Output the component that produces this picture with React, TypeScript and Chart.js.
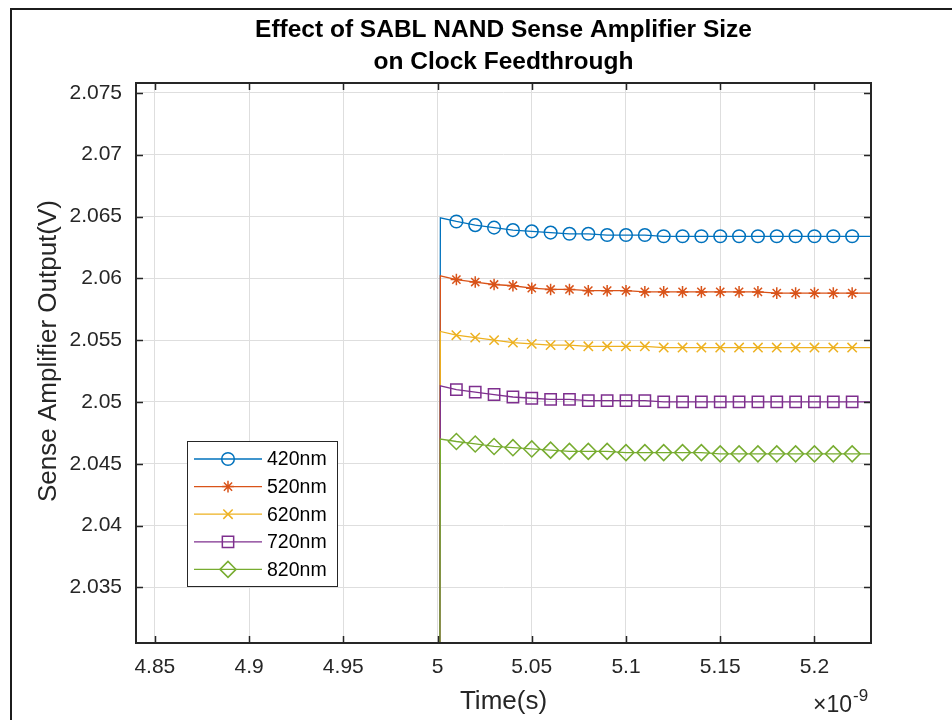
import React, { useEffect, useRef } from 'react';
import { Chart, registerables } from 'chart.js';
import { drawPoint } from 'chart.js/helpers';

Chart.register(...registerables);

// ---------- data ----------
const TITLE_LINES = ['Effect of SABL NAND Sense Amplifier Size', 'on Clock Feedthrough'];
const X_LABEL = 'Time(s)';
const Y_LABEL = 'Sense Amplifier Output(V)';
const X_EXPONENT = '-9';

// time in units of 1e-9 s
const TIMES = [
  5.0008, 5.0015,
  5.01, 5.02, 5.03, 5.04, 5.05, 5.06, 5.07, 5.08, 5.09, 5.10, 5.11,
  5.12, 5.13, 5.14, 5.15, 5.16, 5.17, 5.18, 5.19, 5.20, 5.21, 5.22,
  5.23,
];

const SERIES_NAMES = ['420nm', '520nm', '620nm', '720nm', '820nm'];

const V_420 = [
  2.0, 2.0649,
  2.0646, 2.0643, 2.0641, 2.0639, 2.0638, 2.0637, 2.0636, 2.0636, 2.0635, 2.0635, 2.0635,
  2.0634, 2.0634, 2.0634, 2.0634, 2.0634, 2.0634, 2.0634, 2.0634, 2.0634, 2.0634, 2.0634,
  2.0634,
];
const V_520 = [
  2.0, 2.0602,
  2.0599, 2.0597, 2.0595, 2.0594, 2.0592, 2.0591, 2.0591, 2.0590, 2.0590, 2.0590, 2.0589,
  2.0589, 2.0589, 2.0589, 2.0589, 2.0589, 2.0589, 2.0588, 2.0588, 2.0588, 2.0588, 2.0588,
  2.0588,
];
const V_620 = [
  2.0, 2.0557,
  2.0554, 2.0552, 2.0550, 2.0548, 2.0547, 2.0546, 2.0546, 2.0545, 2.0545, 2.0545, 2.0545,
  2.0544, 2.0544, 2.0544, 2.0544, 2.0544, 2.0544, 2.0544, 2.0544, 2.0544, 2.0544, 2.0544,
  2.0544,
];
const V_720 = [
  2.0, 2.0513,
  2.0510, 2.0508, 2.0506, 2.0504, 2.0503, 2.0502, 2.0502, 2.0501, 2.0501, 2.0501, 2.0501,
  2.0500, 2.0500, 2.0500, 2.0500, 2.0500, 2.0500, 2.0500, 2.0500, 2.0500, 2.0500, 2.0500,
  2.0500,
];
const V_820 = [
  2.0, 2.0470,
  2.0468, 2.0466, 2.0464, 2.0463, 2.0462, 2.0461, 2.0460, 2.0460, 2.0460, 2.0459, 2.0459,
  2.0459, 2.0459, 2.0459, 2.0458, 2.0458, 2.0458, 2.0458, 2.0458, 2.0458, 2.0458, 2.0458,
  2.0458,
];

const X_TICKS = [4.85, 4.9, 4.95, 5.0, 5.05, 5.1, 5.15, 5.2];
const X_TICK_LABELS = ['4.85', '4.9', '4.95', '5', '5.05', '5.1', '5.15', '5.2'];
const Y_TICKS = [2.035, 2.04, 2.045, 2.05, 2.055, 2.06, 2.065, 2.07, 2.075];
const Y_TICK_LABELS = ['2.035', '2.04', '2.045', '2.05', '2.055', '2.06', '2.065', '2.07', '2.075'];
const X_MIN = 4.84;
const X_MAX = 5.23;
const Y_MIN = 2.0305;
const Y_MAX = 2.0758;

// ---------- styles ----------
const COLORS = ['#0072BD', '#D95319', '#EDB120', '#7E2F8E', '#77AC30'];
const POINT_STYLES = ['circle', 'star', 'crossRot', 'rect', 'rectRot'];
const POINT_RADII = [6.3, 5.8, 6.6, 8, 8];
const FONT = "'Liberation Sans', Arial, Helvetica, sans-serif";
const AXIS_COLOR = '#262626';
const GRID_COLOR = '#dedede';

const SERIES_VALUES = [V_420, V_520, V_620, V_720, V_820];

const isMarker = (i: number) => i >= 2 && i <= TIMES.length - 2;

const decorPlugin = {
  id: 'decor',
  beforeDraw(chart: any) {
    const ctx = chart.ctx;
    ctx.save();
    ctx.fillStyle = '#ffffff';
    ctx.fillRect(0, 0, chart.width, chart.height);
    ctx.strokeStyle = '#1c1c1c';
    ctx.lineWidth = 2;
    ctx.beginPath();
    ctx.moveTo(11, chart.height);
    ctx.lineTo(11, 9);
    ctx.lineTo(chart.width, 9);
    ctx.stroke();
    ctx.restore();
  },
  afterDatasetsDraw(chart: any) {
    const ctx = chart.ctx;
    const { left, right, top, bottom } = chart.chartArea;
    const xs = chart.scales.x;
    const ys = chart.scales.y;
    const tl = 7;
    ctx.save();
    ctx.strokeStyle = AXIS_COLOR;
    ctx.lineWidth = 1.5;
    ctx.beginPath();
    X_TICKS.forEach((v) => {
      const px = Math.round(xs.getPixelForValue(v)) + 0.5;
      ctx.moveTo(px, bottom);
      ctx.lineTo(px, bottom - tl);
      ctx.moveTo(px, top);
      ctx.lineTo(px, top + tl);
    });
    Y_TICKS.forEach((v) => {
      const py = Math.round(ys.getPixelForValue(v)) + 0.5;
      ctx.moveTo(left, py);
      ctx.lineTo(left + tl, py);
      ctx.moveTo(right, py);
      ctx.lineTo(right - tl, py);
    });
    ctx.stroke();
    ctx.lineWidth = 2;
    ctx.strokeRect(left, top, right - left, bottom - top);
    ctx.restore();
  },
  afterDraw(chart: any) {
    const ctx = chart.ctx;
    const { left, right, top, bottom } = chart.chartArea;
    const cx = (left + right) / 2;
    ctx.save();
    // title
    ctx.fillStyle = '#000000';
    ctx.font = `bold 24.5px ${FONT}`;
    ctx.textAlign = 'center';
    ctx.textBaseline = 'middle';
    ctx.fillText(TITLE_LINES[0], cx, top - 53);
    ctx.fillText(TITLE_LINES[1], cx, top - 21);
    // axis labels
    ctx.fillStyle = AXIS_COLOR;
    ctx.font = `26px ${FONT}`;
    ctx.fillText(X_LABEL, cx, bottom + 59);
    ctx.save();
    ctx.translate(left - 87, top + 268);
    ctx.rotate(-Math.PI / 2);
    ctx.fillText(Y_LABEL, 0, 0);
    ctx.restore();
    // exponent
    ctx.textAlign = 'left';
    ctx.textBaseline = 'alphabetic';
    ctx.font = `23px ${FONT}`;
    const base = '\u00d710';
    const bx = right - 58;
    ctx.fillText(base, bx, bottom + 69);
    const bw = ctx.measureText(base).width;
    ctx.font = `17px ${FONT}`;
    ctx.fillText(X_EXPONENT, bx + bw + 1, bottom + 58);

    // legend
    const lx = left + 51;
    const ly = top + 358;
    const lw = 150;
    const lh = 145;
    ctx.fillStyle = '#ffffff';
    ctx.fillRect(lx, ly, lw, lh);
    ctx.strokeStyle = AXIS_COLOR;
    ctx.lineWidth = 1;
    ctx.strokeRect(lx + 0.5, ly + 0.5, lw, lh);
    ctx.font = `19.5px ${FONT}`;
    ctx.textBaseline = 'middle';
    SERIES_NAMES.forEach((name, i) => {
      const y = ly + 18 + i * 27.6;
      ctx.strokeStyle = COLORS[i];
      ctx.lineWidth = 1.3;
      ctx.beginPath();
      ctx.moveTo(lx + 7, y);
      ctx.lineTo(lx + 75, y);
      ctx.stroke();
      ctx.fillStyle = 'rgba(0,0,0,0)';
      ctx.strokeStyle = COLORS[i];
      ctx.lineWidth = 1.5;
      drawPoint(ctx, { pointStyle: POINT_STYLES[i], radius: POINT_RADII[i], borderWidth: 1.5, rotation: 0 } as any, lx + 41, y);
      ctx.fillStyle = '#000000';
      ctx.textAlign = 'left';
      ctx.fillText(name, lx + 80, y + 1);
    });
    ctx.restore();
  },
};

export default function App() {
  const canvasRef = useRef<HTMLCanvasElement | null>(null);

  useEffect(() => {
    const canvas = canvasRef.current;
    if (!canvas) return;
    const datasets = SERIES_NAMES.map((name, i) => ({
      label: name,
      data: TIMES.map((t, j) => ({ x: t, y: SERIES_VALUES[i][j] })),
      borderColor: COLORS[i],
      backgroundColor: 'rgba(0,0,0,0)',
      borderWidth: 1.3,
      pointStyle: POINT_STYLES[i] as any,
      pointRadius: (c: any) => (isMarker(c.dataIndex) ? POINT_RADII[i] : 0),
      pointBorderColor: COLORS[i],
      pointBackgroundColor: 'rgba(0,0,0,0)',
      pointBorderWidth: 1.5,
      tension: 0,
      fill: false,
      order: SERIES_NAMES.length - 1 - i,
    }));

    const chart = new Chart(canvas, {
      type: 'line',
      data: { datasets },
      options: {
        responsive: false,
        animation: false,
        events: [],
        layout: { padding: { left: 0, right: 81, top: 83, bottom: 0 } },
        plugins: {
          legend: { display: false },
          title: { display: false },
          tooltip: { enabled: false },
        },
        scales: {
          x: {
            type: 'linear',
            min: X_MIN,
            max: X_MAX,
            afterBuildTicks: (s: any) => {
              s.ticks = X_TICKS.map((v) => ({ value: v }));
            },
            afterFit: (s: any) => {
              s.height = 77;
            },
            ticks: {
              callback: (_v: any, idx: number) => X_TICK_LABELS[idx],
              font: { family: FONT, size: 21 },
              color: AXIS_COLOR,
              padding: 12,
              maxRotation: 0,
              autoSkip: false,
            },
            grid: { color: GRID_COLOR, lineWidth: 1, drawTicks: false },
            border: { display: false },
          },
          y: {
            type: 'linear',
            min: Y_MIN,
            max: Y_MAX,
            afterBuildTicks: (s: any) => {
              s.ticks = Y_TICKS.map((v) => ({ value: v }));
            },
            afterFit: (s: any) => {
              s.width = 136;
            },
            ticks: {
              callback: (_v: any, idx: number) => Y_TICK_LABELS[idx],
              font: { family: FONT, size: 21 },
              color: AXIS_COLOR,
              padding: 14,
              autoSkip: false,
            },
            grid: { color: GRID_COLOR, lineWidth: 1, drawTicks: false },
            border: { display: false },
          },
        },
      },
      plugins: [decorPlugin],
    });
    return () => chart.destroy();
  }, []);

  return (
    <div style={{ position: 'absolute', left: 0, top: 0, width: 952, height: 720 }}>
      <canvas ref={canvasRef} width={952} height={720} style={{ display: 'block' }} />
    </div>
  );
}
